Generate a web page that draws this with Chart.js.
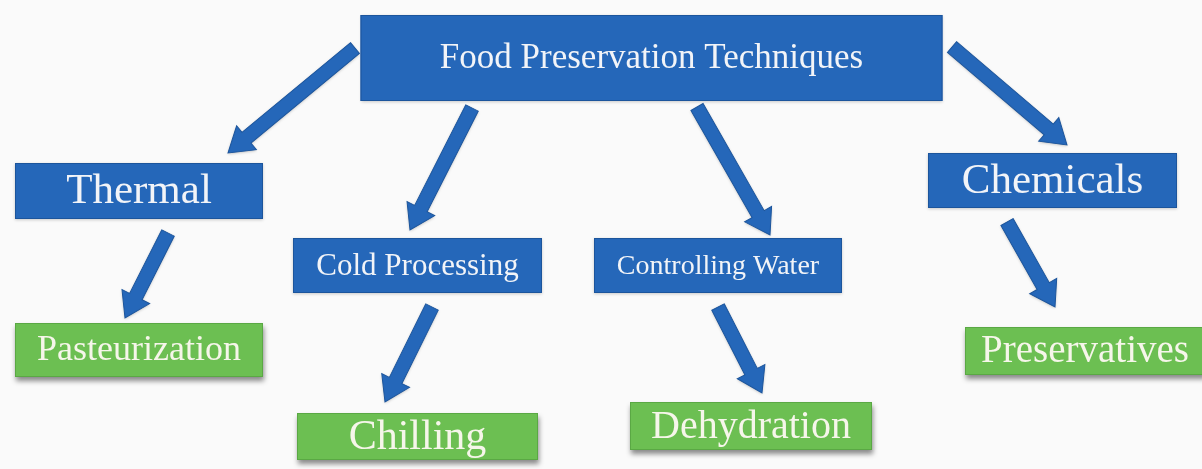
<!DOCTYPE html>
<html>
<head>
<meta charset="utf-8">
<script src="https://cdn.jsdelivr.net/npm/chart.js@4"></script>
<style>
  html, body { margin: 0; padding: 0; background: #fafafa; }
  #wrap { width: 1202px; height: 469px; }
</style>
</head>
<body>
<div id="wrap"><canvas id="chart" width="1202" height="469"></canvas></div>
<script>
// Knoten des Diagramms
const nodeLabels = ['Food Preservation Techniques', 'Thermal', 'Cold Processing', 'Controlling Water',
    'Chemicals', 'Pasteurization', 'Chilling', 'Dehydration', 'Preservatives'];
const nodeKind = ['root', 'group', 'group', 'group', 'group', 'leaf', 'leaf', 'leaf', 'leaf'];
const nodeX = [651.5, 139, 417.5, 718, 1052.5, 139, 417.5, 751, 1085];
const nodeY = [58, 191, 265.5, 265.5, 180.5, 350, 436.5, 426, 351];

// Pfeile: von -> nach
const edgeFrom = [0, 0, 0, 0, 1, 2, 3, 4];
const edgeTo = [1, 2, 3, 4, 5, 6, 7, 8];
const arrowTailX = [355, 472, 697, 952, 168, 432, 718, 1007];
const arrowTailY = [48, 108, 107, 47, 233, 307, 307, 222];
const arrowTipX = [228, 410, 770, 1067, 125, 385, 762, 1055];
const arrowTipY = [153, 230, 235, 145, 318, 402, 393, 307];

// Layout (Box-Groessen in Diagramm-Einheiten) und Schrift
const boxW = [582, 248, 249, 248, 249, 248, 241, 242, 240];
const boxH = [86, 56, 55, 55, 55, 54, 47, 48, 48];
const fontSize = [35, 43, 31, 28, 43, 36, 42, 40, 39];

const BLUE = '#2567b9';
const BLUE_EDGE = '#1c559c';
const GREEN = '#6cbf52';
const GREEN_EDGE = '#5aa844';
const FONT = '"Liberation Serif", "DejaVu Serif", serif';

const diagramPlugin = {
    id: 'diagram',
    afterDatasetsDraw(chart) {
        const ctx = chart.ctx;
        const xs = chart.scales.x;
        const ys = chart.scales.y;
        const unitX = Math.abs(xs.getPixelForValue(1) - xs.getPixelForValue(0));
        const unitY = Math.abs(ys.getPixelForValue(1) - ys.getPixelForValue(0));

        // Pfeile
        edgeFrom.forEach((from, i) => {
            const x0 = xs.getPixelForValue(arrowTailX[i]);
            const y0 = ys.getPixelForValue(arrowTailY[i]);
            const x1 = xs.getPixelForValue(arrowTipX[i]);
            const y1 = ys.getPixelForValue(arrowTipY[i]);
            const len = Math.hypot(x1 - x0, y1 - y0);
            const ang = Math.atan2(y1 - y0, x1 - x0);
            const shaft = 14, headW = 31, headL = 24;
            ctx.save();
            ctx.translate(x0, y0);
            ctx.rotate(ang);
            ctx.beginPath();
            ctx.moveTo(0, -shaft / 2);
            ctx.lineTo(len - headL, -shaft / 2);
            ctx.lineTo(len - headL, -headW / 2);
            ctx.lineTo(len, 0);
            ctx.lineTo(len - headL, headW / 2);
            ctx.lineTo(len - headL, shaft / 2);
            ctx.lineTo(0, shaft / 2);
            ctx.closePath();
            ctx.shadowColor = 'rgba(0,0,0,0.25)';
            ctx.shadowBlur = 3;
            ctx.shadowOffsetY = 1;
            ctx.fillStyle = BLUE;
            ctx.fill();
            ctx.shadowColor = 'transparent';
            ctx.lineWidth = 1;
            ctx.strokeStyle = BLUE_EDGE;
            ctx.stroke();
            ctx.restore();
        });

        // Boxen
        nodeLabels.forEach((label, i) => {
            const cx = xs.getPixelForValue(nodeX[i]);
            const cy = ys.getPixelForValue(nodeY[i]);
            const w = boxW[i] * unitX;
            const h = boxH[i] * unitY;
            const leaf = nodeKind[i] === 'leaf';
            ctx.save();
            ctx.shadowColor = leaf ? 'rgba(0,0,0,0.45)' : 'rgba(0,0,0,0.2)';
            ctx.shadowBlur = leaf ? 5 : 3;
            ctx.shadowOffsetY = leaf ? 4 : 1;
            ctx.shadowOffsetX = leaf ? 1 : 0;
            ctx.fillStyle = leaf ? GREEN : BLUE;
            ctx.fillRect(cx - w / 2, cy - h / 2, w, h);
            ctx.shadowColor = 'transparent';
            ctx.lineWidth = 1;
            ctx.strokeStyle = leaf ? GREEN_EDGE : BLUE_EDGE;
            ctx.strokeRect(cx - w / 2 + 0.5, cy - h / 2 + 0.5, w - 1, h - 1);

            ctx.fillStyle = leaf ? '#f6f6ea' : '#f2f4f8';
            ctx.font = `${fontSize[i]}px ${FONT}`;
            ctx.textAlign = 'center';
            ctx.textBaseline = 'middle';
            ctx.fillText(label, cx, cy + 1);
            ctx.restore();
        });
    }
};

document.addEventListener('DOMContentLoaded', () => {
    const canvas = document.getElementById('chart');
    new Chart(canvas, {
        type: 'scatter',
        data: {
            datasets: [{
                label: 'Nodes',
                data: nodeX.map((x, i) => ({ x: x, y: nodeY[i] })),
                pointRadius: 0,
                pointHoverRadius: 0
            }]
        },
        options: {
            responsive: false,
            animation: false,
            layout: { padding: 0 },
            scales: {
                x: { type: 'linear', min: 0, max: 1202, display: false },
                y: { type: 'linear', min: 0, max: 469, reverse: true, display: false }
            },
            plugins: {
                legend: { display: false },
                tooltip: { enabled: false }
            }
        },
        plugins: [diagramPlugin]
    });
});
</script>
</body>
</html>
